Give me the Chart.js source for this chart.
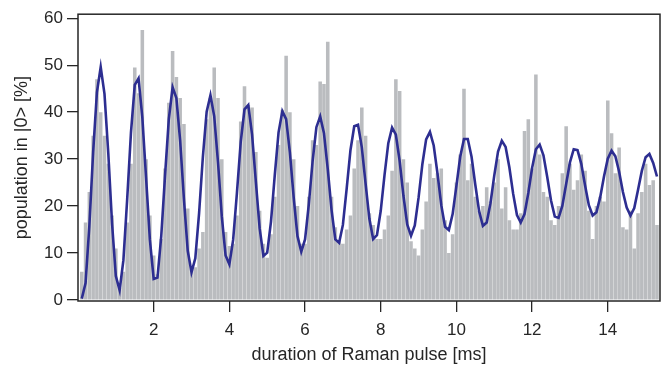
<!DOCTYPE html>
<html>
<head>
<meta charset="utf-8">
<script src="https://cdn.jsdelivr.net/npm/chart.js@4/dist/chart.umd.min.js"></script>
<style>
body{margin:0;background:#fff}
#wrap{width:667px;height:366px}
</style>
</head>
<body>
<div id="wrap"><canvas id="ramanChart" width="667" height="366"></canvas></div>
<script>

// bin centres of the histogram [ms]
const times = [
0.1,0.2,0.3,0.4,0.5,0.6,0.7,0.8,0.9,1.0,
1.1,1.2,1.3,1.4,1.5,1.6,1.7,1.8,1.9,2.0,
2.1,2.2,2.3,2.4,2.5,2.6,2.7,2.8,2.9,3.0,
3.1,3.2,3.3,3.4,3.5,3.6,3.7,3.8,3.9,4.0,
4.1,4.2,4.3,4.4,4.5,4.6,4.7,4.8,4.9,5.0,
5.1,5.2,5.3,5.4,5.5,5.6,5.7,5.8,5.9,6.0,
6.1,6.2,6.3,6.4,6.5,6.6,6.7,6.8,6.9,7.0,
7.1,7.2,7.3,7.4,7.5,7.6,7.7,7.8,7.9,8.0,
8.1,8.2,8.3,8.4,8.5,8.6,8.7,8.8,8.9,9.0,
9.1,9.2,9.3,9.4,9.5,9.6,9.7,9.8,9.9,10.0,
10.1,10.2,10.3,10.4,10.5,10.6,10.7,10.8,10.9,11.0,
11.1,11.2,11.3,11.4,11.5,11.6,11.7,11.8,11.9,12.0,
12.1,12.2,12.3,12.4,12.5,12.6,12.7,12.8,12.9,13.0,
13.1,13.2,13.3,13.4,13.5,13.6,13.7,13.8,13.9,14.0,
14.1,14.2,14.3,14.4,14.5,14.6,14.7,14.8,14.9,15.0,
15.1,15.2,15.3
]

// measured population per bin [%]
const measured = [
6,16.5,23,35,47,40,35,29,18,11,
2.5,6,16.5,29,49.5,44,57.5,30,18,9.5,
5.5,13,28,42,53,47.5,43,37.5,19.5,6.5,
7,11,14.5,38.5,43,49.5,43,30,14.5,11.5,
12,18,38,45.5,41.5,41,31.5,19,12,9,
14,22,33,40.5,52,40,30,20,12,12,
22,34,33,46.5,46,55,22,15.5,12.5,12,
15,18,28,34,41,35,18.5,16,13,13,
15,18,27.5,47,44.5,30,25,12.5,11,9.5,
15,21,29,26,27,28,17,10,14,25,
31,45,25.5,29,22,19,20,24,21,25,
30,19.5,24,17,15,15,18.5,36,38.5,28,
48,31,23,22,17,16,20,27,37,29,
23.5,25.5,31,27.5,19,13,20,22,21,42.5,
35.5,27,32.5,15.5,15,19,11,18.5,23,29,
24.5,25.5,16
]

// fitted curve [%]
const fitted = [
0.3,3.6,15.8,31.5,44.2,49.6,43.9,31.3,16.3,5.1,
2.1,8.5,21.5,35.7,45.8,47.2,38.9,25.9,12.8,4.5,
4.8,13.6,26.5,38.5,45.3,43.0,33.9,21.4,10.5,5.9,
8.9,18.5,30.5,40.1,43.6,39.1,29.3,17.8,9.5,7.6,
12.8,22.8,33.6,40.6,41.5,35.2,25.2,15.3,9.4,10.1,
16.7,26.6,35.7,40.2,38.5,31.4,21.8,13.6,10.3,12.9,
20.4,29.6,36.8,39.1,35.5,27.9,19.2,12.9,12.2,16.0,
23.7,31.9,37.0,37.3,32.5,24.8,17.3,13.0,13.8,19.0,
26.6,33.4,36.7,35.2,29.6,22.2,16.1,13.7,15.9,21.8,
28.9,34.2,35.8,32.9,26.9,20.2,15.6,14.9,18.3,24.3,
30.5,34.3,34.3,30.5,24.5,18.9,15.8,16.5,20.6,26.5,
31.6,33.9,32.6,28.2,22.6,18.1,16.5,18.3,22.8,28.1,
32.1,33.1,30.8,26.2,21.2,17.8,17.5,20.1,24.7,29.3,
32.1,31.9,29.0,24.4,20.2,18.0,18.7,21.9,26.3,30.1,
31.8,30.6,27.3,23.0,19.7,18.0,19.6,23.5,27.5,30.4,
31.1,29.2,26.3
]

const xTicks = [2,4,6,8,10,12,14]
const yTicks = [0,10,20,30,40,50,60]

const ink = "#262626"
const fontFamily = "'Liberation Sans', Arial, sans-serif"

const frame = {
id:"frame",
afterDraw(chart){
const a = chart.chartArea
const ctx = chart.ctx
ctx.save()
ctx.strokeStyle = ink
ctx.lineWidth = 1.5
ctx.strokeRect(a.left, a.top, a.right - a.left, a.bottom - a.top)
ctx.restore()
}
}

new Chart(
document.getElementById("ramanChart"),
{
data:{
datasets:[
{
type:"line",
data:times.map((t,i)=>({x:t,y:fitted[i]})),
borderColor:"#2d2e91",
borderWidth:2.6,
pointRadius:0,
tension:0,
order:0
},
{
type:"bar",
data:times.map((t,i)=>({x:t,y:measured[i]})),
backgroundColor:"rgb(186,188,191)",
borderWidth:0,
barPercentage:0.94,
categoryPercentage:1,
order:1
}
]
},
options:{
responsive:false,
animation:false,
layout:{padding:{left:0,right:7,top:13,bottom:0}},
plugins:{legend:{display:false},tooltip:{enabled:false}},
scales:{
x:{
type:"linear",
offset:false,
min:0,
max:15.38,
afterBuildTicks:s => { s.ticks = xTicks.map(v=>({value:v})) },
afterFit:s => { s.height = 65 },
grid:{offset:false,drawOnChartArea:false,color:ink,lineWidth:1.3,tickLength:11},
border:{display:false},
ticks:{color:ink,padding:8,font:{family:fontFamily,size:17}},
title:{display:true,text:"duration of Raman pulse [ms]",color:ink,padding:{top:0,bottom:0},font:{family:fontFamily,size:18}}
},
y:{
min:-0.2,
max:60.85,
afterBuildTicks:s => { s.ticks = yTicks.map(v=>({value:v})) },
afterFit:s => { s.width = 78 },
grid:{drawOnChartArea:false,color:ink,lineWidth:1.3,tickLength:11},
border:{display:false},
ticks:{color:ink,padding:4,font:{family:fontFamily,size:17}},
title:{display:true,text:"population in |0> [%]",color:ink,padding:{top:11,bottom:0},font:{family:fontFamily,size:18}}
}
}
},
plugins:[frame]
}
)

</script>
</body>
</html>
